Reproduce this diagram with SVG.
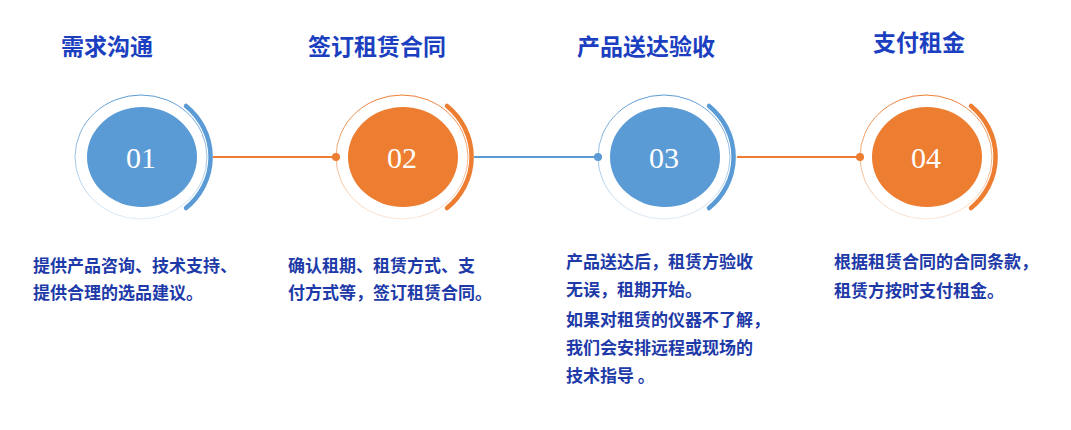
<svg xmlns="http://www.w3.org/2000/svg" width="1071" height="430" viewBox="0 0 1071 430">
<style>
.t{font-family:"Noto Sans CJK SC","Liberation Sans",sans-serif;font-weight:bold;font-size:23px;fill:#1b3fc0;text-anchor:middle}
.b{font-family:"Noto Sans CJK SC","Liberation Sans",sans-serif;font-weight:bold;font-size:17px;fill:#1d3aa8}
.n{font-family:"Liberation Serif",serif;font-size:30px;fill:#fff;text-anchor:middle}
.arc{fill:none;stroke-width:4.5;stroke-linecap:round}
</style>
<defs>
<linearGradient id="gb" x1="0" y1="0" x2="0" y2="1"><stop offset="0" stop-color="#5b9bd5"/><stop offset="1" stop-color="#5b9bd5" stop-opacity="0.2"/></linearGradient>
<linearGradient id="go" x1="0" y1="0" x2="0" y2="1"><stop offset="0" stop-color="#ed7d31"/><stop offset="1" stop-color="#ed7d31" stop-opacity="0.2"/></linearGradient>
</defs>
<g id="connectors">
<line x1="213" y1="157" x2="336" y2="157" stroke="#ed7d31" stroke-width="2"/><circle cx="336" cy="157" r="4" fill="#ed7d31"/>
<line x1="474" y1="157" x2="598" y2="157" stroke="#5b9bd5" stroke-width="2"/><circle cx="598" cy="157" r="4" fill="#5b9bd5"/>
<line x1="737" y1="157" x2="860" y2="157" stroke="#ed7d31" stroke-width="2"/><circle cx="860" cy="157" r="4" fill="#ed7d31"/>
</g>
<g id="n1">
<text class="t" x="107" y="55">需求沟通</text>
<ellipse cx="141" cy="157" rx="66" ry="62" fill="none" stroke="url(#gb)" stroke-width="1"/>
<ellipse cx="142" cy="157" rx="55" ry="50" fill="#5b9bd5"/>
<path class="arc" stroke="#5b9bd5" d="M186 106 A70 67 0 0 1 186 208"/>
<text class="n" x="141" y="168">01</text>
<text class="b" x="33" y="272">提供产品咨询、技术支持、</text>
<text class="b" x="33" y="299">提供合理的选品建议。</text>
</g>
<g id="n2">
<text class="t" x="377" y="55">签订租赁合同</text>
<ellipse cx="402" cy="157" rx="66" ry="62" fill="none" stroke="url(#go)" stroke-width="1"/>
<ellipse cx="403" cy="157" rx="55" ry="50" fill="#ed7d31"/>
<path class="arc" stroke="#ed7d31" d="M447 106 A70 67 0 0 1 447 208"/>
<text class="n" x="402" y="168">02</text>
<text class="b" x="288" y="272">确认租期、租赁方式、支</text>
<text class="b" x="288" y="299">付方式等，签订租赁合同。</text>
</g>
<g id="n3">
<text class="t" x="646" y="55">产品送达验收</text>
<ellipse cx="664" cy="157" rx="66" ry="62" fill="none" stroke="url(#gb)" stroke-width="1"/>
<ellipse cx="665" cy="157" rx="55" ry="50" fill="#5b9bd5"/>
<path class="arc" stroke="#5b9bd5" d="M709 106 A70 67 0 0 1 709 208"/>
<text class="n" x="664" y="168">03</text>
<text class="b" x="566" y="268">产品送达后，租赁方验收</text>
<text class="b" x="566" y="296">无误，租期开始。</text>
<text class="b" x="566" y="326">如果对租赁的仪器不了解，</text>
<text class="b" x="566" y="354">我们会安排远程或现场的</text>
<text class="b" x="566" y="382">技术指导 。</text>
</g>
<g id="n4">
<text class="t" x="919" y="51">支付租金</text>
<ellipse cx="926" cy="157" rx="66" ry="62" fill="none" stroke="url(#go)" stroke-width="1"/>
<ellipse cx="927" cy="157" rx="55" ry="50" fill="#ed7d31"/>
<path class="arc" stroke="#ed7d31" d="M971 106 A70 67 0 0 1 971 208"/>
<text class="n" x="926" y="168">04</text>
<text class="b" x="834" y="268">根据租赁合同的合同条款，</text>
<text class="b" x="834" y="297">租赁方按时支付租金。</text>
</g>
</svg>
